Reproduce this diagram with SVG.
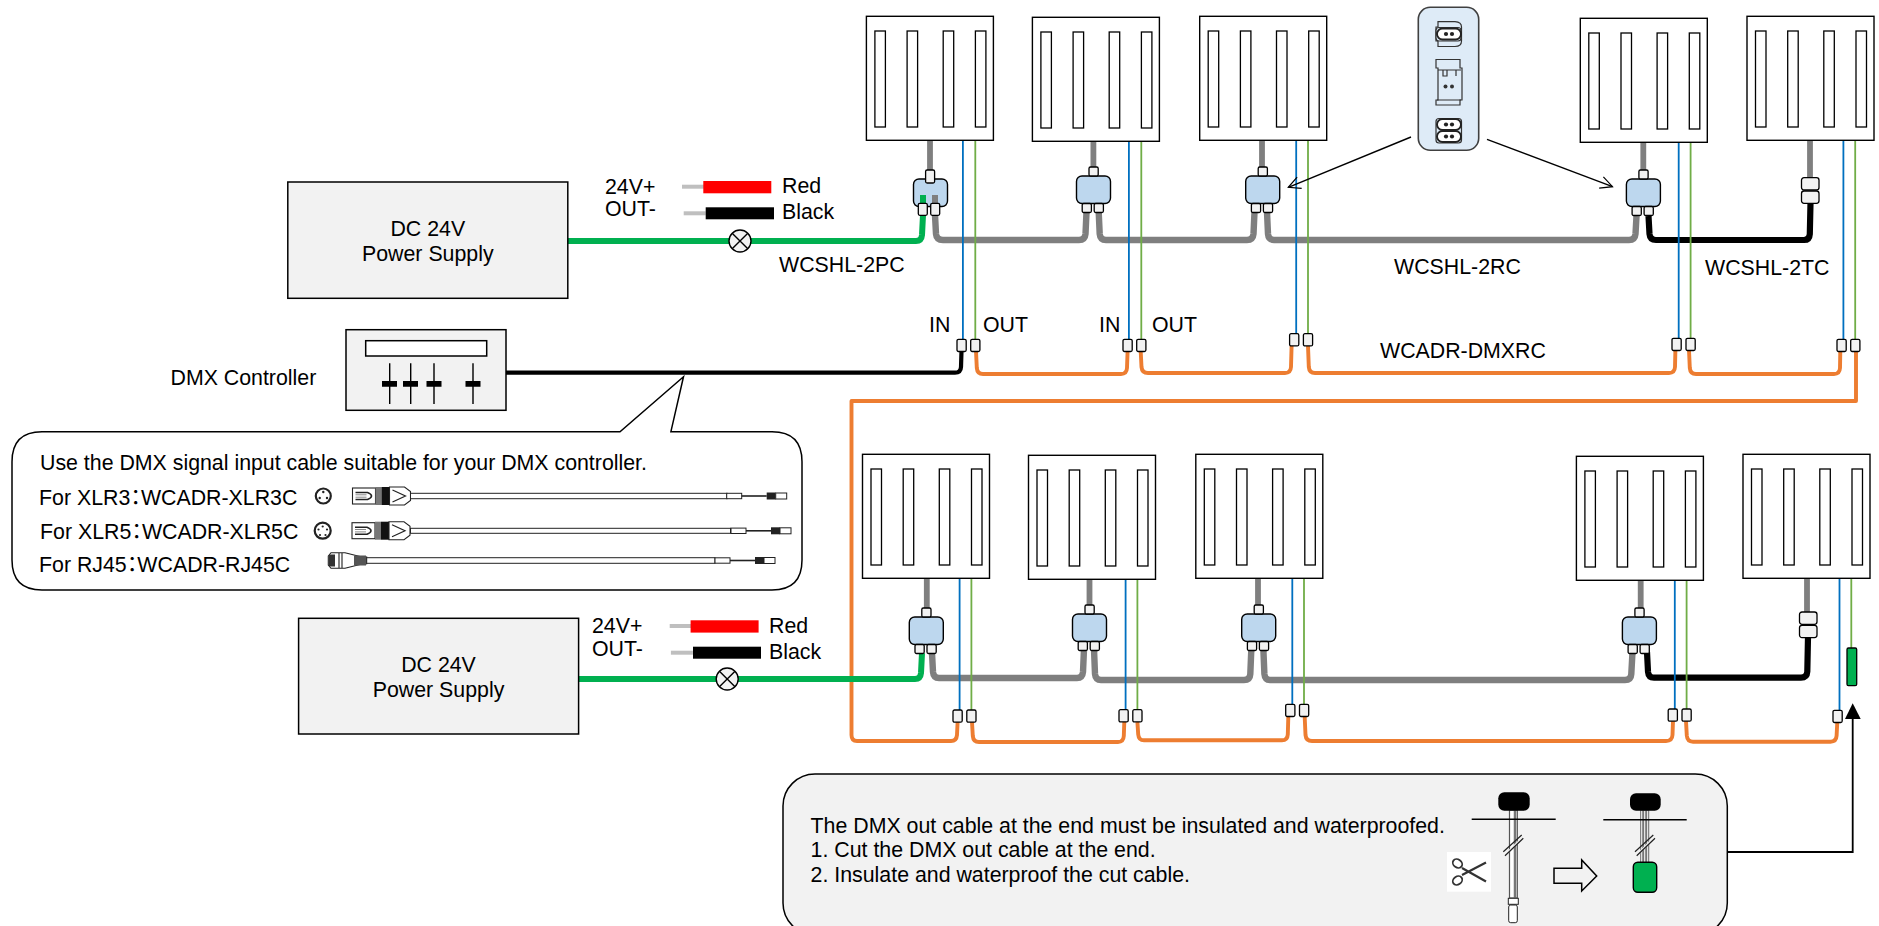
<svg xmlns="http://www.w3.org/2000/svg" width="1879" height="926" viewBox="0 0 1879 926">
<style>
text{font-family:"Liberation Sans","Noto Sans CJK JP",sans-serif;font-size:21.33px;fill:#000}
.mid{text-anchor:middle}
.halt{font-feature-settings:"halt"}
.panel{fill:#fff;stroke:#000;stroke-width:1.4}
.slot{fill:#fff;stroke:#000;stroke-width:1.3}
.box{fill:#F2F2F2;stroke:#000;stroke-width:1.5}
.junc{fill:#BDD7EE;stroke:#000;stroke-width:1.4}
.stub{fill:#F2F2F2;stroke:#000;stroke-width:1.3}
.w{fill:none;stroke-linejoin:round}
.grey{stroke:#7F7F7F;stroke-width:6.4}
.stem{stroke:#7F7F7F;stroke-width:5.8}
.green{stroke:#00B050;stroke-width:6}
.black{stroke:#000;stroke-width:6.2}
.dmx{stroke:#000;stroke-width:4.2}
.orange{stroke:#ED7D31;stroke-width:3.9}
.bl{stroke:#0070C0;stroke-width:1.8}
.gr{stroke:#70AD47;stroke-width:1.8}
.thin{fill:none;stroke:#000;stroke-width:1.4}
.c{fill:#fff;stroke:#222;stroke-width:1}
.ic{fill:#DEEBF7;stroke:#333;stroke-width:1.2}
</style>
<defs>
<g id="pan">
<rect class="panel" width="127" height="124"/>
<rect class="slot" x="8.500" y="14.700" width="10.500" height="96"/>
<rect class="slot" x="40.700" y="14.700" width="10.500" height="96"/>
<rect class="slot" x="76.800" y="14.700" width="10.500" height="96"/>
<rect class="slot" x="109" y="14.700" width="10.500" height="96"/>
</g>
<g id="jn">
<rect class="junc" x="0" y="0" width="34" height="27.500" rx="5.500"/>
<rect class="stub" x="12.500" y="-9" width="9.200" height="9" rx="1.500"/>
<rect class="stub" x="5.700" y="27.500" width="9.200" height="9" rx="1.500"/>
<rect class="stub" x="17.700" y="27.500" width="9.200" height="9" rx="1.500"/>
</g>
<g id="dc"><rect class="stub" width="9.200" height="12.200" rx="1.500"/></g>
<g id="pair">
<rect class="stub" x="0" y="0" width="17.500" height="12.300" rx="2.500"/>
<rect class="stub" x="0" y="13.300" width="17.500" height="12.300" rx="2.500"/>
</g>
<g id="xlr">
<rect x="0" y="-8" width="23" height="16" fill="#fff" stroke="#222" stroke-width="1.100"/>
<path d="M3-3.500H15Q19-2 19 0Q19 2 15 3.500H3" fill="none" stroke="#222" stroke-width="1.600"/>
<path d="M3-1.200H14M3 1.200H14" stroke="#888" stroke-width="1"/>
<rect x="23" y="-9" width="6" height="18" fill="#777"/>
<rect x="29" y="-9" width="8" height="18" fill="#111"/>
<path d="M37-9H52L58-4.500V4.500L52 9H37Z" fill="#fff" stroke="#222" stroke-width="1.100"/>
<path d="M40-6L53 0L40 6" fill="none" stroke="#222" stroke-width="1.200"/>
</g>
<g id="tail">
<rect class="c" x="0" y="-2.700" width="15" height="5.400"/>
<path d="M15 0H40" stroke="#222" stroke-width="1.600"/>
<rect x="40" y="-3.500" width="9" height="7" fill="#222"/>
<rect class="c" x="49" y="-3" width="11" height="6"/>
</g>
<marker id="open" markerWidth="16" markerHeight="16" refX="13" refY="7" orient="auto" markerUnits="userSpaceOnUse">
<path d="M1 1L13 7L1 13" fill="none" stroke="#000" stroke-width="1.200"/>
</marker>
<g id="outlet"><rect x="-12" y="-5.500" width="24" height="11" rx="5.500" fill="#fff" stroke="#222" stroke-width="1.900"/><circle cx="-3" r="2.100" fill="#222"/><circle cx="3" r="2.100" fill="#222"/></g>
</defs>

<g id="connectors">
<path class="w stem" d="M930 140V170M1093.400 141V168M1262 140V168M1643.300 142V172M1810 140V178"/>
<path class="w stem" d="M926.800 578V609M1089.500 579V605M1258 578V606M1640.700 580V608M1807 578V612"/>
<path class="w orange" d="M1856 351V401H851.500V735Q851.500 741 857 741H951Q956.500 741 957 735L957.600 722"/>
<path class="w orange" d="M976 351L976.800 368Q977.300 374 983 374H1121Q1126.700 374 1127 368L1127.600 351M1140.700 351L1141.500 367Q1142 373 1148 373H1285Q1290.700 373 1291 367L1291.600 346M1308 346L1308.800 367Q1309.300 373 1315 373H1669Q1674.700 373 1675 367L1675.400 350M1689 350L1689.800 368Q1690.300 374 1696 374H1834Q1839.700 374 1840 368L1840.300 351"/>
<path class="w orange" d="M972 722L972.800 736Q973.300 742 979 742H1118Q1123.500 742 1123.800 736L1124.300 722M1137.400 722L1138.200 734.300Q1138.700 740.300 1144 740.300H1282Q1287.500 740.300 1287.800 734.300L1288.300 717M1304.700 717L1305.500 735Q1306 741 1312 741H1666Q1672.200 741 1672.500 735L1673 721M1686 721L1686.800 735.700Q1687.300 741.700 1693 741.700H1830.500Q1836.300 741.700 1836.600 735.700L1837.300 722"/>
<path class="w dmx" d="M506 372.700H955Q960.800 372.700 961 367L961.500 351"/>
<path class="w green" d="M568 241H916Q921.500 241 922 235L923 215"/>
<path class="w green" d="M578.500 679H915Q920.500 679 921 673L922 653"/>
<path class="w grey" d="M935 215L936 234Q936.500 240 943 240H1079Q1085 240 1085.500 234L1086.500 212M1098.700 212L1099.700 234Q1100.200 240 1106 240H1247Q1253 240 1253.500 234L1254.500 212M1267 212L1268 234Q1268.500 240 1274 240H1629Q1635 240 1635.500 234L1636.500 216"/>
<path class="w black" d="M1648.500 216L1649.500 234Q1650 240 1656 240H1804Q1809.500 240 1809.800 234L1810.500 203"/>
<path class="w grey" d="M932 653L933 672Q933.500 678 939 678H1077Q1082.500 678 1083 672L1084 649M1094 649L1095 674Q1095.500 680 1101 680H1244Q1250 680 1250.300 674L1251.300 650M1263.400 650L1264.400 674Q1264.900 680 1270 680H1625Q1631 680 1631.300 674L1632.500 652"/>
<path class="w black" d="M1647 652L1648 671.700Q1648.500 677.700 1654 677.700H1801Q1807 677.700 1807.300 671.700L1808 637"/>
<path class="w bl" d="M962.900 140V340M1128.900 141V340M1296.200 140V334M1678.700 142V339M1843.400 140V340"/>
<path class="w gr" d="M975.300 140V340M1141.300 141V340M1308 140V334M1690.600 142V339M1855.200 140V340"/>
<path class="w bl" d="M959.600 578V711M1125.600 579V710M1292.300 578V705M1674.800 580V710M1839.500 578V711"/>
<path class="w gr" d="M971.400 578V711M1137.400 579V710M1304 578V705M1686.600 580V710M1851.300 578V649"/>
<path class="thin" d="M1411 137L1288.300 187.300" marker-end="url(#open)"/>
<path class="thin" d="M1487 139.300L1612.500 186.700" marker-end="url(#open)"/>
<path d="M1728 852H1852.700V715" fill="none" stroke="#000" stroke-width="1.800"/>
<path d="M1852.700 703.300L1860.700 719H1845Z" fill="#000"/>
</g>

<g id="panel-t1"><use href="#pan" x="866.400" y="16.300"/></g>
<g id="panel-t2"><use href="#pan" x="1032.400" y="17.300"/></g>
<g id="panel-t3"><use href="#pan" x="1199.700" y="16.300"/></g>
<g id="panel-t4"><use href="#pan" x="1580.300" y="18.300"/></g>
<g id="panel-t5"><use href="#pan" x="1747" y="16.300"/></g>
<g id="panel-b1"><use href="#pan" x="862.500" y="454.300"/></g>
<g id="panel-b2"><use href="#pan" x="1028.500" y="455.300"/></g>
<g id="panel-b3"><use href="#pan" x="1195.800" y="454.300"/></g>
<g id="panel-b4"><use href="#pan" x="1576.400" y="456.300"/></g>
<g id="panel-b5"><use href="#pan" x="1743" y="454.300"/></g>

<g id="junction-t1">
<rect class="junc" x="913.500" y="179" width="34" height="27.500" rx="5.500"/>
<path class="w" d="M923 195V204" stroke="#00B050" stroke-width="6"/>
<path class="w" d="M935 195V204" stroke="#7F7F7F" stroke-width="6"/>
<rect class="stub" x="925.600" y="170" width="9" height="13" rx="1.500"/>
<rect class="stub" x="918.300" y="203.300" width="9" height="12" rx="1.500"/>
<rect class="stub" x="930.700" y="203.300" width="9" height="12" rx="1.500"/>
</g>
<g id="junction-t2"><use href="#jn" x="1076.500" y="176"/></g>
<g id="junction-t3"><use href="#jn" x="1245.700" y="176"/></g>
<g id="junction-t4"><use href="#jn" x="1626.400" y="179"/></g>
<g id="junction-t5"><use href="#pair" x="1801.500" y="177.700"/></g>
<g id="junction-b1"><use href="#jn" x="909.300" y="617"/></g>
<g id="junction-b2"><use href="#jn" x="1072.500" y="614"/></g>
<g id="junction-b3"><use href="#jn" x="1241.700" y="614"/></g>
<g id="junction-b4"><use href="#jn" x="1622.400" y="617"/></g>
<g id="junction-b5"><use href="#pair" x="1799.500" y="612"/></g>

<g id="dmx-connectors">
<use href="#dc" x="957" y="339.300"/><use href="#dc" x="970.700" y="339.300"/>
<use href="#dc" x="1123" y="339.300"/><use href="#dc" x="1136.700" y="339.300"/>
<use href="#dc" x="1289.600" y="333.700"/><use href="#dc" x="1303.400" y="333.700"/>
<use href="#dc" x="1672" y="338.300"/><use href="#dc" x="1686" y="338.300"/>
<use href="#dc" x="1837" y="339.300"/><use href="#dc" x="1850.700" y="339.300"/>
<use href="#dc" x="953" y="710"/><use href="#dc" x="966.800" y="710"/>
<use href="#dc" x="1119" y="709.700"/><use href="#dc" x="1132.800" y="709.700"/>
<use href="#dc" x="1285.700" y="704.300"/><use href="#dc" x="1299.500" y="704.300"/>
<use href="#dc" x="1668.200" y="709"/><use href="#dc" x="1682" y="709"/>
<use href="#dc" x="1833" y="710.300"/>
</g>
<g id="end-cap"><rect x="1847" y="648" width="9.700" height="37.700" rx="1.500" fill="#00B050" stroke="#000" stroke-width="1.300"/></g>

<g id="supply-1">
<rect class="box" x="287.800" y="182" width="280" height="116.300"/>
<text class="mid" x="427.800" y="235.700">DC 24V</text>
<text class="mid" x="427.800" y="261">Power Supply</text>
<text x="605" y="194">24V+</text>
<text x="605" y="216">OUT-</text>
<rect x="682" y="184.700" width="22" height="4" fill="#BFBFBF"/>
<rect x="703.300" y="181" width="68" height="12.300" fill="#F00"/>
<rect x="683.700" y="211.300" width="22" height="4" fill="#BFBFBF"/>
<rect x="705.700" y="207.300" width="68.300" height="12" fill="#000"/>
<text x="782" y="193.300">Red</text>
<text x="782" y="219.300">Black</text>
</g>
<g id="fuse-1"><circle cx="740" cy="241" r="11" fill="#F2F2F2" stroke="#000" stroke-width="1.400"/><path d="M732.200 233.200L747.800 248.800M747.800 233.200L732.200 248.800" stroke="#000" stroke-width="1.400"/></g>

<g id="supply-2">
<rect class="box" x="298.600" y="618.300" width="280" height="115.700"/>
<text class="mid" x="438.500" y="671.700">DC 24V</text>
<text class="mid" x="438.500" y="696.700">Power Supply</text>
<text x="592" y="633.300">24V+</text>
<text x="592" y="655.700">OUT-</text>
<rect x="669.700" y="624" width="22" height="4" fill="#BFBFBF"/>
<rect x="690.600" y="620.300" width="68" height="12.300" fill="#F00"/>
<rect x="670.900" y="650.700" width="22" height="4" fill="#BFBFBF"/>
<rect x="693" y="646.700" width="68" height="12" fill="#000"/>
<text x="769" y="633.300">Red</text>
<text x="769" y="659.300">Black</text>
</g>
<g id="fuse-2"><circle cx="727.200" cy="679" r="11" fill="#F2F2F2" stroke="#000" stroke-width="1.400"/><path d="M719.400 671.200L735 686.800M735 671.200L719.400 686.800" stroke="#000" stroke-width="1.400"/></g>

<g id="dmx-controller">
<text x="170.500" y="385">DMX Controller</text>
<rect class="box" x="346" y="329.700" width="160" height="80.600"/>
<rect x="365.700" y="340.700" width="121" height="15.300" fill="#fff" stroke="#000" stroke-width="1.500"/>
<path d="M389.700 363.300V404M410.700 363.300V404M434 363.300V404M473 363.300V404" stroke="#000" stroke-width="1.400"/>
<path d="M382 381h15v5.700h-15zM403 381h15v5.700h-15zM426.500 381h15v5.700h-15zM465.500 381h15v5.700h-15z" fill="#000"/>
</g>

<g id="labels">
<text x="779" y="271.700">WCSHL-2PC</text>
<text x="1394" y="274">WCSHL-2RC</text>
<text x="1705" y="275">WCSHL-2TC</text>
<text x="929" y="331.700">IN</text>
<text x="983" y="331.700">OUT</text>
<text x="1099" y="331.700">IN</text>
<text x="1152" y="331.700">OUT</text>
<text x="1380" y="357.700">WCADR-DMXRC</text>
</g>

<g id="callout-input">
<path d="M42 431.700H620L683.500 376.700L670.900 431.700H772Q802 431.700 802 461.700V560Q802 590 772 590H42Q12 590 12 560V461.700Q12 431.700 42 431.700Z" fill="#fff" stroke="#000" stroke-width="1.500"/>
<text x="40" y="470">Use the DMX signal input cable suitable for your DMX controller.</text>
<text class="halt" x="39" y="505">For XLR3：WCADR-XLR3C</text>
<text class="halt" x="40" y="539">For XLR5：WCADR-XLR5C</text>
<text class="halt" x="39" y="571.700">For RJ45：WCADR-RJ45C</text>
<circle cx="323.300" cy="496" r="7.500" fill="#fff" stroke="#222" stroke-width="2.200"/>
<circle cx="322.700" cy="530.700" r="8" fill="#fff" stroke="#222" stroke-width="2.200"/>
<g fill="#222">
<circle cx="323.300" cy="492" r="1.200"/><circle cx="319.700" cy="498" r="1.200"/><circle cx="327" cy="498" r="1.200"/>
<circle cx="322.700" cy="526.500" r="1.100"/><circle cx="318.500" cy="529.500" r="1.100"/><circle cx="327" cy="529.500" r="1.100"/><circle cx="320" cy="535" r="1.100"/><circle cx="325.500" cy="535" r="1.100"/>
</g>
<use href="#xlr" x="352.500" y="496"/>
<use href="#xlr" x="352" y="530.700"/>
<rect class="c" x="410.500" y="493.300" width="316.500" height="5.400"/>
<rect class="c" x="410.500" y="528.300" width="320" height="5"/>
<use href="#tail" x="726.700" y="496"/>
<use href="#tail" x="731" y="530.800"/>
<path d="M328.300 556L331 552.700H345L360 556.500L366.700 557V563.800L360 564.500L345 568.300H331L328.300 565Z" fill="#fff" stroke="#222" stroke-width="1.100"/>
<rect x="329" y="554.500" width="6" height="12" fill="#333"/>
<path d="M339 553V568M342 553V568" stroke="#333" stroke-width="1.200"/>
<rect x="354" y="555.500" width="12" height="10" fill="#555"/>
<rect class="c" x="366.700" y="557.700" width="348.300" height="5.600"/>
<use href="#tail" x="715" y="560.500"/>
</g>

<g id="callout-end">
<rect x="783" y="774" width="944.300" height="161" rx="32" fill="#F2F2F2" stroke="#000" stroke-width="1.500"/>
<text x="810.600" y="833.300">The DMX out cable at the end must be insulated and waterproofed.</text>
<text x="810.600" y="856.700">1. Cut the DMX out cable at the end.</text>
<text x="810.600" y="881.700">2. Insulate and waterproof the cut cable.</text>
<rect x="1509.500" y="810" width="7.800" height="88" fill="#fff" stroke="#555" stroke-width="1.200"/>
<path d="M1515 810V898" stroke="#777" stroke-width="2.500"/>
<rect x="1498.300" y="792.300" width="31.400" height="18.400" rx="6" fill="#000"/>
<path d="M1471.700 819.300H1555.700" stroke="#000" stroke-width="1.400"/>
<path d="M1505 853.500L1522.500 836.500L1523.500 838.500L1505.500 856Z" fill="#F2F2F2"/>
<path d="M1503.300 851.700L1521.700 835M1505 855.700L1523.300 838.300" stroke="#222" stroke-width="1.200"/>
<rect class="c" x="1508.300" y="898.300" width="10" height="6"/>
<rect class="c" x="1508.700" y="905" width="8.600" height="17.700" rx="2"/>
<rect x="1447" y="852" width="44" height="39.700" fill="#fff"/>
<g fill="none" stroke="#333" stroke-width="1.800">
<path d="M1462 868L1486 881.500M1462 875L1486 862.500" stroke-width="2.200"/>
<ellipse cx="1457.500" cy="863.500" rx="5" ry="4" transform="rotate(35 1457.500 863.500)"/>
<ellipse cx="1457.500" cy="880.500" rx="5" ry="4" transform="rotate(-35 1457.500 880.500)"/>
</g>
<path d="M1554 868.300H1581.700V860L1596.700 876L1581.700 891V883.300H1554Z" fill="#F2F2F2" stroke="#000" stroke-width="1.500"/>
<rect x="1640.700" y="810" width="8" height="53" fill="#fff" stroke="#666" stroke-width="1"/>
<path d="M1643.200 810V863M1646.200 810V863" stroke="#777" stroke-width="2"/>
<rect x="1630" y="793.300" width="30.700" height="17.400" rx="6" fill="#000"/>
<path d="M1603.300 819.700H1686.700" stroke="#000" stroke-width="1.400"/>
<path d="M1637 853.500L1654 836.500L1655 838.500L1637.500 856Z" fill="#F2F2F2"/>
<path d="M1635 851.700L1653.300 835M1636.700 855.700L1655 838.300" stroke="#222" stroke-width="1.200"/>
<rect x="1633.300" y="862.300" width="23.400" height="30" rx="4.500" fill="#00B050" stroke="#000" stroke-width="1.400"/>
</g>

<g id="connector-legend">
<rect x="1418.300" y="7.300" width="60.400" height="143" rx="12" fill="#DEEBF7" stroke="#404040" stroke-width="1.600"/>
<path class="ic" d="M1438 21.700H1455Q1461.500 22 1461.500 27V41Q1461.500 46.500 1455 46.500H1438L1438 41H1436V27H1438Z"/>
<rect class="ic" x="1436" y="27.500" width="25" height="13.500" rx="3"/>
<use href="#outlet" x="1449" y="34"/>
<path class="ic" d="M1436 59.500H1460V68H1462V100H1460V105H1436V100H1438V68H1436Z"/>
<path d="M1438 70H1461M1437 100H1461M1443 70V76H1447V70M1456 70V76" fill="none" stroke="#333" stroke-width="1.200"/>
<circle cx="1445.500" cy="86.500" r="2" fill="#333"/><circle cx="1452" cy="86.500" r="2" fill="#333"/>
<rect class="ic" x="1436" y="118.500" width="25.500" height="24.500" rx="3"/>
<use href="#outlet" x="1449" y="124.500"/>
<use href="#outlet" x="1449" y="136.500"/>
</g>
</svg>
